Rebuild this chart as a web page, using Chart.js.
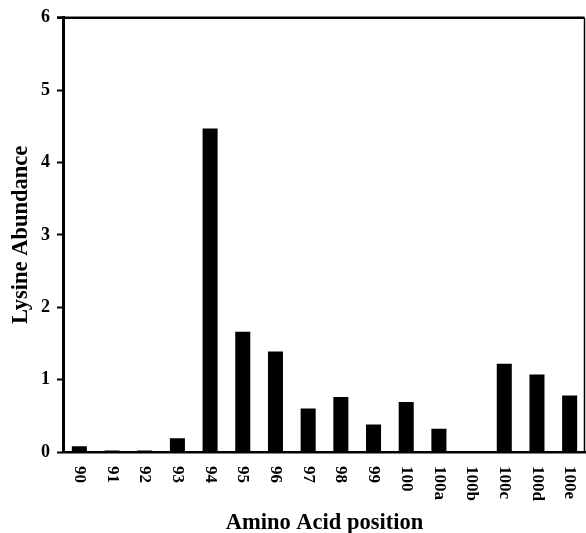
<!DOCTYPE html>
<html>
<head>
<meta charset="utf-8">
<script src="https://cdn.jsdelivr.net/npm/chart.js@4/dist/chart.umd.min.js"></script>
<style>
  html, body { margin: 0; padding: 0; background: #fff; }
  #wrap { width: 586px; height: 533px; }
</style>
</head>
<body>
<div id="wrap"><canvas id="c" width="586" height="533"></canvas></div>
<script>
// Amino acid positions along the loop
const positions = ['90', '91', '92', '93', '94', '95', '96', '97', '98', '99', '100', '100a', '100b', '100c', '100d', '100e'];
// Lysine abundance at each position
const abundance = [0.08, 0.02, 0.02, 0.19, 4.47, 1.66, 1.39, 0.60, 0.76, 0.38, 0.69, 0.32, 0, 1.22, 1.07, 0.78];
// Y axis range and ticks
const yTicks = [0, 1, 2, 3, 4, 5, 6];

const SERIF = '"Liberation Serif", "Times New Roman", serif';

// Category labels drawn top-to-bottom under each bar, plus the open frame on top/right
const verticalLabels = {
  id: 'verticalLabels',
  afterDraw(chart) {
    const { ctx, chartArea } = chart;
    const xs = chart.scales.x;
    ctx.save();
    // frame: top and right edges
    ctx.strokeStyle = '#000';
    ctx.lineWidth = 2.5;
    ctx.beginPath();
    ctx.moveTo(chartArea.left - 6, chartArea.top);
    ctx.lineTo(chartArea.right - 1.5, chartArea.top);
    ctx.stroke();
    ctx.lineWidth = 1.5;
    ctx.beginPath();
    ctx.moveTo(chartArea.right - 1.5, chartArea.top);
    ctx.lineTo(chartArea.right - 1.5, chartArea.bottom);
    ctx.stroke();
    // labels
    ctx.fillStyle = '#000';
    ctx.font = 'bold 17px ' + SERIF;
    ctx.textAlign = 'left';
    ctx.textBaseline = 'middle';
    positions.forEach((lab, i) => {
      const x = xs.getPixelForTick(i);
      ctx.save();
      ctx.translate(x, xs.top + 14);
      ctx.rotate(Math.PI / 2);
      ctx.fillText(lab, 0, 0);
      ctx.restore();
    });
    ctx.restore();
  }
};

new Chart(document.getElementById('c'), {
  type: 'bar',
  data: {
    labels: positions,
    datasets: [{
      data: abundance,
      backgroundColor: '#000',
      borderWidth: 0,
      categoryPercentage: 1.0,
      barPercentage: 0.46
    }]
  },
  options: {
    responsive: false,
    animation: false,
    devicePixelRatio: 1,
    layout: { padding: { top: 17, right: 0, left: 0, bottom: 0 } },
    plugins: { legend: { display: false }, tooltip: { enabled: false } },
    scales: {
      x: {
        afterFit(scale) { scale.height = 81; },
        grid: { display: false },
        border: { display: true, color: '#000', width: 2.5 },
        ticks: { display: false },
        title: {
          display: true,
          text: 'Amino Acid position',
          color: '#000',
          font: { family: SERIF, size: 22.5, weight: 'bold', lineHeight: 0.85 },
          padding: { top: 0, bottom: 0 }
        }
      },
      y: {
        min: yTicks[0],
        max: yTicks[yTicks.length - 1],
        afterFit(scale) { scale.width = 63; },
        afterBuildTicks(scale) { scale.ticks = yTicks.map(v => ({ value: v })); },
        grid: {
          drawOnChartArea: false,
          drawTicks: true,
          tickLength: 6,
          tickWidth: 2,
          color: '#000'
        },
        border: { display: true, color: '#000', width: 3 },
        ticks: {
          color: '#000',
          padding: 7,
          font: { family: SERIF, size: 18, weight: 'bold' }
        },
        title: {
          display: true,
          text: 'Lysine Abundance',
          color: '#000',
          font: { family: SERIF, size: 22.5, weight: 'bold' },
          padding: { top: 8, bottom: 0 }
        }
      }
    }
  },
  plugins: [verticalLabels]
});
</script>
</body>
</html>
